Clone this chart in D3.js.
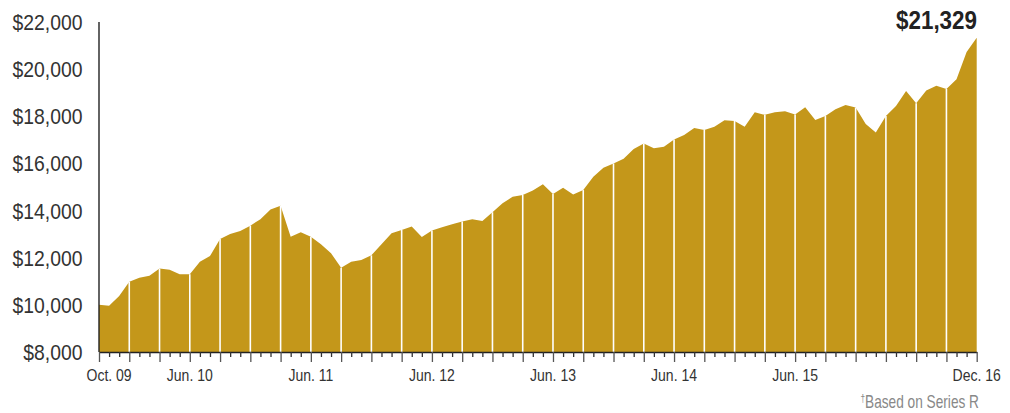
<!DOCTYPE html>
<html>
<head>
<meta charset="utf-8">
<script src="https://cdn.jsdelivr.net/npm/d3@7"></script>
<style>
  html, body { margin: 0; padding: 0; background: #fff; }
  svg { display: block; }
  text { font-family: "Liberation Sans", Arial, sans-serif; }
</style>
</head>
<body>
<svg id="chart" width="1010" height="413"></svg>
<script>
// Monthly growth of $10,000 (index 0 = Sep 09 ... index 87 = Dec 16)
const values = [
  10000, 9960, 10380, 10980, 11150, 11240, 11540, 11490, 11300, 11300,
  11830, 12070, 12790, 13010, 13130, 13360, 13630, 14050, 14200, 12890,
  13080, 12890, 12570, 12190, 11570, 11830, 11900, 12100, 12570, 13040,
  13180, 13320, 12880, 13150, 13290, 13420, 13540, 13630, 13560, 13930,
  14310, 14590, 14660, 14850, 15120, 14700, 14970, 14680, 14870, 15440,
  15820, 16000, 16200, 16610, 16850, 16640, 16710, 17020, 17210, 17500,
  17420, 17560, 17830, 17800, 17560, 18170, 18060, 18170, 18210, 18080,
  18380, 17840, 18010, 18300, 18480, 18370, 17670, 17310, 18010, 18440,
  19070, 18550, 19090, 19300, 19160, 19570, 20730, 21329
];
const xLabelIndex = [1, 9, 21, 33, 45, 57, 69, 87];
const xLabels = ["Oct. 09", "Jun. 10", "Jun. 11", "Jun. 12", "Jun. 13", "Jun. 14", "Jun. 15", "Dec. 16"];
const yTicks = [8000, 10000, 12000, 14000, 16000, 18000, 20000, 22000];
const endLabel = "$21,329";
const footnote = "Based on Series R";

const svg = d3.select("#chart");
const x = d3.scaleLinear().domain([0, values.length - 1]).range([99, 976.7]);
const y = d3.scaleLinear().domain([8000, 22000]).range([352, 22]);
const gold = "#C4971A";

// condensed text helper
function squeeze(sel, sx) {
  return sel.attr("transform", function () {
    const tx = +this.getAttribute("data-x"), ty = +this.getAttribute("data-y");
    return `translate(${tx},${ty}) scale(${sx},1)`;
  });
}

// area
const area = d3.area()
  .x((d, i) => x(i))
  .y0(y(8000))
  .y1(d => y(d));
svg.append("path").datum(values).attr("d", area).attr("fill", gold);

// white quarterly separators
const quarterIdx = d3.range(3, values.length - 1, 3);
svg.append("g").selectAll("line").data(quarterIdx).join("line")
  .attr("x1", i => x(i)).attr("x2", i => x(i))
  .attr("y1", y(8000)).attr("y2", i => y(values[i]))
  .attr("stroke", "#fff").attr("stroke-width", 1.6);

// x axis
const xAxis = d3.axisBottom(x)
  .tickValues(d3.range(0, values.length))
  .tickFormat("")
  .tickSizeOuter(0)
  .tickSizeInner(5);
const gx = svg.append("g").attr("transform", `translate(0,${y(8000)})`).call(xAxis);
gx.select(".domain").attr("stroke", "#222").attr("stroke-width", 1.5);
gx.selectAll(".tick line")
  .attr("stroke", d => d % 3 === 0 ? "#555" : "#333")
  .attr("stroke-width", 1.3)
  .attr("y2", d => d % 3 === 0 ? 10 : 5);

// x labels
squeeze(svg.append("g").selectAll("text").data(xLabelIndex).join("text")
  .attr("data-x", i => x(i)).attr("data-y", 381)
  .attr("text-anchor", "middle")
  .attr("font-size", 16.3).attr("fill", "#333")
  .text((d, k) => xLabels[k]), 0.86);

// y axis line
svg.append("line")
  .attr("x1", 99).attr("x2", 99)
  .attr("y1", y(22000)).attr("y2", y(8000))
  .attr("stroke", "#222").attr("stroke-width", 1.4);

// y labels
squeeze(svg.append("g").selectAll("text").data(yTicks).join("text")
  .attr("data-x", 82.5).attr("data-y", d => y(d)).attr("dy", "0.36em")
  .attr("text-anchor", "end")
  .attr("font-size", 22).attr("fill", "#333")
  .text(d => "$" + d3.format(",")(d)), 0.88);

// end value label
squeeze(svg.append("text")
  .attr("data-x", 977).attr("data-y", 28.5)
  .attr("text-anchor", "end")
  .attr("font-size", 25.6).attr("font-weight", "bold").attr("fill", "#222")
  .text(endLabel), 0.875);

// footnote
const fn = svg.append("text")
  .attr("data-x", 979).attr("data-y", 408)
  .attr("text-anchor", "end")
  .attr("font-size", 18).attr("fill", "#888");
fn.append("tspan").attr("font-size", 11).attr("dy", -6).text("\u2020");
fn.append("tspan").attr("dy", 6).text(footnote);
squeeze(fn, 0.76);
</script>
</body>
</html>
